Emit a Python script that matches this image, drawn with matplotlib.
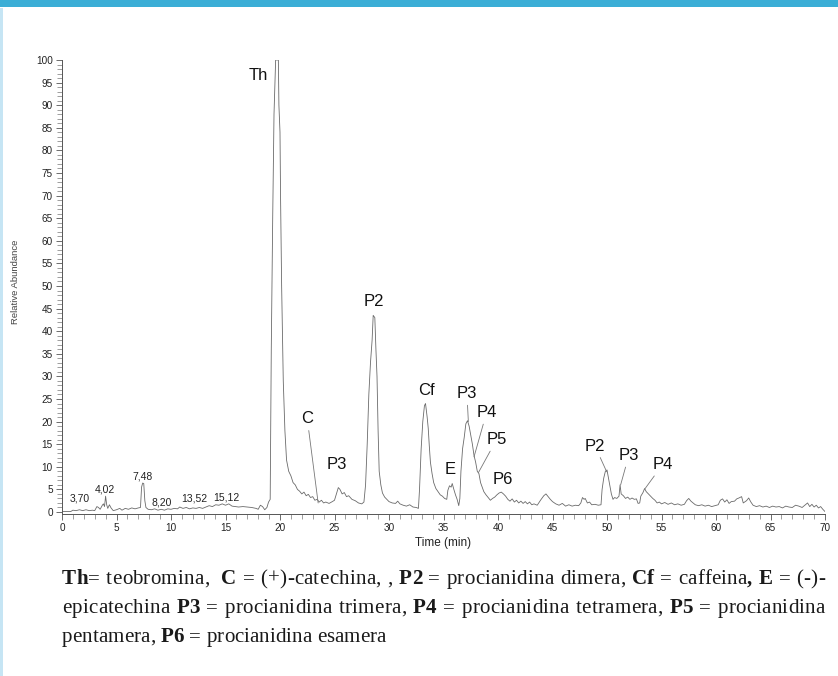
import matplotlib
matplotlib.use("Agg")
import matplotlib.pyplot as plt
from matplotlib.ticker import MultipleLocator
from matplotlib.patches import Rectangle

# ---------------- data ----------------
time_min = [0.0, 0.8, 1.0, 1.3, 1.6, 1.9, 2.2, 2.5, 2.8, 3.0, 3.2, 3.35, 3.5, 3.7, 3.8, 3.9,
            4.0, 4.1, 4.2, 4.35, 4.5, 4.7, 5.0, 5.3, 5.5, 5.8, 6.1, 6.4, 6.7, 7.0, 7.2, 7.3,
            7.4, 7.5, 7.6, 7.7, 7.9, 8.2, 8.5, 8.8, 9.1, 9.4, 9.7, 10.0, 10.3, 10.6, 10.8,
            11.1, 11.4, 11.7, 12.0, 12.3, 12.6, 12.9, 13.2, 13.5, 13.8, 14.1, 14.4, 14.7,
            15.0, 15.3, 15.6, 15.9, 16.2, 16.6, 17.0, 17.4, 17.8, 18.0, 18.2, 18.4, 18.6,
            18.8, 18.95, 19.1, 19.2, 19.33, 19.45, 19.6, 19.7, 19.85, 19.9, 20.0, 20.05,
            20.15, 20.3, 20.45, 20.6, 20.8, 21.0, 21.2, 21.4, 21.6, 21.8, 22.0, 22.2, 22.4,
            22.6, 22.8, 23.0, 23.2, 23.4, 23.6, 23.8, 24.0, 24.2, 24.5, 24.8, 25.0, 25.2,
            25.35, 25.5, 25.7, 25.9, 26.1, 26.3, 26.6, 26.9, 27.2, 27.5, 27.7, 27.85, 28.0,
            28.15, 28.3, 28.45, 28.55, 28.7, 28.8, 28.9, 29.0, 29.1, 29.25, 29.4, 29.6, 29.8,
            30.0, 30.3, 30.6, 30.8, 31.0, 31.3, 31.6, 31.9, 32.2, 32.5, 32.7, 32.8, 32.95,
            33.1, 33.25, 33.35, 33.5, 33.6, 33.7, 33.8, 33.95, 34.1, 34.3, 34.5, 34.7, 34.9,
            35.1, 35.3, 35.4, 35.55, 35.7, 35.8, 35.95, 36.1, 36.25, 36.4, 36.5, 36.6, 36.75,
            36.9, 37.05, 37.2, 37.35, 37.5, 37.65, 37.8, 37.95, 38.1, 38.25, 38.4, 38.55,
            38.7, 38.9, 39.1, 39.3, 39.5, 39.7, 39.9, 40.1, 40.3, 40.5, 40.7, 40.9, 41.1,
            41.3, 41.5, 41.7, 41.9, 42.1, 42.3, 42.5, 42.7, 42.9, 43.1, 43.3, 43.6, 43.9,
            44.2, 44.4, 44.6, 44.8, 45.0, 45.3, 45.6, 45.9, 46.2, 46.5, 46.8, 47.1, 47.4,
            47.6, 47.75, 47.9, 48.0, 48.2, 48.4, 48.6, 48.9, 49.2, 49.45, 49.55, 49.7, 49.85,
            50.0, 50.1, 50.25, 50.4, 50.55, 50.7, 50.9, 51.1, 51.2, 51.3, 51.5, 51.7, 51.9,
            52.1, 52.3, 52.5, 52.7, 52.85, 53.0, 53.1, 53.3, 53.45, 53.6, 53.8, 54.0, 54.2,
            54.4, 54.6, 54.8, 55.0, 55.3, 55.6, 55.9, 56.2, 56.5, 56.8, 57.1, 57.3, 57.5,
            57.7, 57.9, 58.1, 58.4, 58.7, 59.0, 59.3, 59.6, 59.9, 60.2, 60.4, 60.6, 60.8,
            61.0, 61.2, 61.4, 61.7, 61.9, 62.1, 62.35, 62.5, 62.8, 63.0, 63.2, 63.4, 63.7,
            64.0, 64.3, 64.6, 64.9, 65.2, 65.5, 65.8, 66.1, 66.4, 66.7, 67.0, 67.3, 67.6,
            67.9, 68.2, 68.4, 68.6, 68.8, 69.0, 69.2, 69.4, 69.6, 69.8, 70.0]
abundance = [0.1, 0.1, 0.4, 0.3, 0.5, 0.3, 0.5, 0.3, 0.4, 0.3, 1.2, 1.0, 0.6, 1.5, 1.8, 1.2,
             3.5, 1.6, 0.8, 1.6, 0.9, 0.3, 0.5, 0.8, 0.4, 0.8, 0.6, 0.9, 0.7, 0.9, 1.0, 5.5,
             6.4, 6.3, 2.5, 1.0, 0.6, 0.5, 0.7, 0.4, 0.6, 0.4, 0.7, 0.6, 0.8, 0.7, 1.1,
             0.8, 1.0, 0.7, 0.9, 0.8, 1.0, 0.8, 1.1, 1.4, 1.2, 1.6, 1.5, 1.8,
             1.5, 1.8, 1.3, 1.2, 1.1, 1.2, 1.1, 1.0, 0.8, 0.6, 1.5, 1.2, 0.5,
             1.0, 2.2, 2.8, 36.0, 65.0, 88.0, 100.0, 100.0, 100.0, 90.0, 84.0, 70.0,
             50.0, 29.0, 18.0, 11.5, 9.0, 8.0, 6.5, 6.0, 5.0, 4.6, 4.0, 4.4, 3.6,
             3.9, 3.2, 3.4, 2.6, 2.8, 2.2, 2.6, 2.0, 2.2, 1.9, 2.3, 2.6, 4.2,
             5.4, 5.0, 4.0, 4.3, 3.4, 3.6, 2.8, 2.5, 2.0, 1.8, 2.2, 6.0, 15.0,
             26.0, 33.0, 38.0, 43.5, 43.0, 36.0, 30.0, 18.0, 9.0, 6.0, 4.2, 3.3, 2.8,
             2.3, 2.0, 1.9, 2.4, 1.8, 1.5, 1.3, 1.6, 1.1, 1.0, 0.8, 5.0, 14.0,
             20.0, 23.5, 24.0, 21.0, 18.5, 14.5, 11.0, 8.5, 6.5, 5.2, 4.5, 3.8, 3.5,
             3.0, 2.8, 4.8, 5.8, 5.5, 6.3, 5.0, 3.8, 2.8, 1.4, 3.0, 9.0, 14.0,
             16.5, 19.5, 20.2, 19.0, 17.0, 15.0, 12.5, 11.0, 9.0, 8.5, 6.5, 5.5,
             4.5, 3.8, 3.2, 2.6, 3.0, 3.3, 3.8, 4.2, 4.4, 4.0, 3.5, 2.8, 2.4,
             2.9, 2.2, 2.6, 2.0, 2.4, 1.9, 2.3, 1.8, 2.2, 1.6, 1.8, 1.5, 2.6,
             3.6, 4.0, 3.4, 2.8, 2.3, 1.8, 1.5, 1.9, 1.3, 1.6, 1.3, 1.5, 1.4,
             2.0, 3.2, 2.8, 3.0, 2.0, 2.2, 1.6, 1.7, 1.5, 1.6, 5.0, 7.5, 9.0,
             9.3, 8.0, 6.0, 4.0, 2.8, 3.2, 3.0, 3.5, 6.0, 4.0, 3.6, 3.0, 3.3,
             2.8, 3.1, 2.8, 2.9, 1.9, 2.0, 3.5, 4.3, 5.2, 4.5, 4.0, 3.5, 3.0,
             2.6, 2.0, 2.2, 1.8, 2.1, 1.7, 2.0, 1.6, 1.8, 1.5, 1.7, 2.5, 3.0,
             2.4, 2.0, 1.6, 1.4, 1.6, 1.3, 1.5, 1.2, 1.4, 1.6, 2.6, 2.9, 2.2,
             2.7, 1.9, 2.3, 2.4, 2.9, 3.1, 3.4, 2.0, 2.5, 3.1, 2.2, 1.5, 1.2,
             1.4, 1.1, 1.3, 1.0, 1.3, 1.1, 1.2, 0.9, 1.3, 1.1, 1.0, 1.5, 1.3,
             1.0, 1.6, 2.0, 1.2, 1.7, 1.1, 1.5, 0.9, 1.2, 0.6, 0.1]

# retention-time labels (small)
rt_labels = ["3,70", "4,02", "7,48", "8,20", "13,52", "15,12"]
rt_label_t = [1.6, 3.95, 7.4, 9.15, 12.1, 15.1]
rt_label_v = [2.9, 4.9, 7.9, 2.1, 3.0, 3.2]

# compound labels (large); pointer target None = no leader line
peak_labels = ["Th", "C", "P3", "P2", "Cf", "E", "P3", "P4", "P5", "P6", "P2", "P3", "P4"]
peak_label_t = [18.0, 22.5, 25.2, 28.6, 33.4, 35.6, 37.15, 38.95, 39.86, 40.45, 48.9, 52.0, 55.1]
peak_label_v = [96.5, 20.6, 10.5, 46.5, 26.9, 9.3, 26.2, 22.0, 16.0, 7.1, 14.6, 12.5, 10.5]
peak_target_t = [None, 23.5, None, None, None, None, 37.28, 37.8, 38.2, None, 49.97, 51.25, 53.5]
peak_target_v = [None, 2.0, None, None, None, None, 20.0, 12.2, 8.7, None, 8.9, 6.0, 5.2]

xlabel = "Time (min)"
ylabel = "Relative Abundance"

# caption: tokens of (text, bold) runs; None = extra word space before next token
caption_lines = [
    [[("Th", True), ("=", False)], [("teobromina,", False)], None,
     [("C", True)], [("=", False)], [("(+)-catechina,", False)], [(",", False)],
     [("P2", True)], [("=", False)], [("procianidina", False)], [("dimera,", False)],
     [("Cf", True)], [("=", False)], [("caffeina", False), (",", True)],
     [("E", True)], [("=", False)], [("(-)-", False)]],
    [[("epicatechina", False)], [("P3", True)], [("=", False)], [("procianidina", False)],
     [("trimera,", False)], [("P4", True)], [("=", False)], [("procianidina", False)],
     [("tetramera,", False)], [("P5", True)], [("=", False)], [("procianidina", False)]],
    [[("pentamera,", False)], [("P6", True)], [("=", False)], [("procianidina", False)],
     [("esamera", False)]],
]

# ---------------- figure ----------------
W, H = 838, 676
fig = plt.figure(figsize=(W / 100, H / 100), dpi=100)
fig.patch.set_facecolor("white")

# decorative page frame
fig.add_artist(Rectangle((0, 1 - 7 / H), 1, 7 / H, transform=fig.transFigure,
                         facecolor="#3BAED6", edgecolor="none"))
fig.add_artist(Rectangle((0, 0), 3 / W, 1 - 8 / H, transform=fig.transFigure,
                         facecolor="#C6E5F4", edgecolor="none"))

y0, y1 = -0.4, 100.0
ppu = 4.52
ax_bottom_px = 512 + (0 - y0) * ppu
ax_top_px = 512 - y1 * ppu
ax = fig.add_axes([62 / W, 1 - ax_bottom_px / H, 763 / W, (ax_bottom_px - ax_top_px) / H])
ax.set_xlim(0, 70)
ax.set_ylim(y0, y1)

ax.plot(time_min, abundance, color="#6a6a6a", lw=0.6)

for s in ["top", "right"]:
    ax.spines[s].set_visible(False)
for s in ["left", "bottom"]:
    ax.spines[s].set_color("#555555")
    ax.spines[s].set_linewidth(0.7)

ax.xaxis.set_major_locator(MultipleLocator(5))
ax.xaxis.set_minor_locator(MultipleLocator(1))
ax.yaxis.set_major_locator(MultipleLocator(5))
ax.yaxis.set_minor_locator(MultipleLocator(1))
ax.tick_params(axis="both", which="major", length=4.5, width=0.6, color="#555555",
               labelsize=7.2, labelcolor="#222222", pad=2, direction="out")
ax.tick_params(axis="both", which="minor", length=3.5, width=0.5, color="#777777",
               direction="out")
for lab in ax.get_xticklabels() + ax.get_yticklabels():
    lab.set_family("Liberation Sans")

ax.set_xlabel(xlabel, fontsize=8.5, family="Liberation Sans", color="#222222", labelpad=3)
fig.text(16 / W, 1 - 282 / H, ylabel, rotation=90, fontsize=6.8, family="Liberation Sans",
         color="#444444", ha="center", va="center")

for lab, t, v in zip(rt_labels, rt_label_t, rt_label_v):
    ax.text(t, v, lab, fontsize=7.5, family="Liberation Sans", color="#222222",
            ha="center", va="center")

for lab, t, v, tt, tv in zip(peak_labels, peak_label_t, peak_label_v, peak_target_t, peak_target_v):
    if tt is None:
        ax.text(t, v, lab, fontsize=12, family="Liberation Sans", color="#111111",
                ha="center", va="center")
    else:
        ax.annotate(lab, xy=(tt, tv), xytext=(t, v), fontsize=12, family="Liberation Sans",
                    color="#111111", ha="center", va="center",
                    arrowprops=dict(arrowstyle="-", color="#777777", lw=0.6,
                                    shrinkA=1, shrinkB=0))

# ---------------- justified caption ----------------
renderer = fig.canvas.get_renderer()
cap_left, cap_right = 62, 825
baselines = [584, 613, 642]
cap_family = "Liberation Serif"


def run_width(text, bold, size):
    t = fig.text(0, 0, text, fontsize=size, family=cap_family,
                 fontweight="bold" if bold else "normal")
    w = t.get_window_extent(renderer).width
    t.remove()
    return w


ref_size = 10.0
last_tokens = caption_lines[2]
sp_ref = run_width("a a", False, ref_size) - run_width("aa", False, ref_size)
ref_w = sum(run_width(txt, b, ref_size) for tok in last_tokens for txt, b in tok) \
    + sp_ref * (len(last_tokens) - 1)
cap_size = ref_size * 305.0 / ref_w * 1.06

space_w = run_width("a a", False, cap_size) - run_width("aa", False, cap_size)

for li, tokens in enumerate(caption_lines):
    gaps = []
    real = []
    pending = 0
    for tok in tokens:
        if tok is None:
            pending += 1
        else:
            if real:
                gaps.append(1 + pending)
            pending = 0
            real.append(tok)
    layout = []
    n_bounds = 0
    total = 0.0
    for tok in real:
        runs = []
        for txt, b in tok:
            pref = [0.0] + [run_width(txt[:k], b, cap_size) for k in range(1, len(txt) + 1)]
            runs.append((txt, b, pref))
            total += pref[-1]
            n_bounds += len(txt)
        n_bounds -= 1
        layout.append(runs)
    natural = total + space_w * sum(gaps)
    if li < len(caption_lines) - 1:
        extra = cap_right - cap_left - natural
        track = 0.45 * extra / max(n_bounds, 1)
        gap_unit = space_w + 0.55 * extra / sum(gaps)
    else:
        track = 0.0
        gap_unit = space_w
    x = cap_left
    ybase = 1 - baselines[li] / H
    for i, runs in enumerate(layout):
        for txt, b, pref in runs:
            for k, ch in enumerate(txt):
                fig.text((x + pref[k]) / W, ybase, ch, fontsize=cap_size, family=cap_family,
                         fontweight="bold" if b else "normal", color="#1a1a1a",
                         ha="left", va="baseline")
                x += track
            x += pref[-1]
        x -= track
        if i < len(gaps):
            x += gap_unit * gaps[i]

fig.savefig("out.png", dpi=100, facecolor="white")
